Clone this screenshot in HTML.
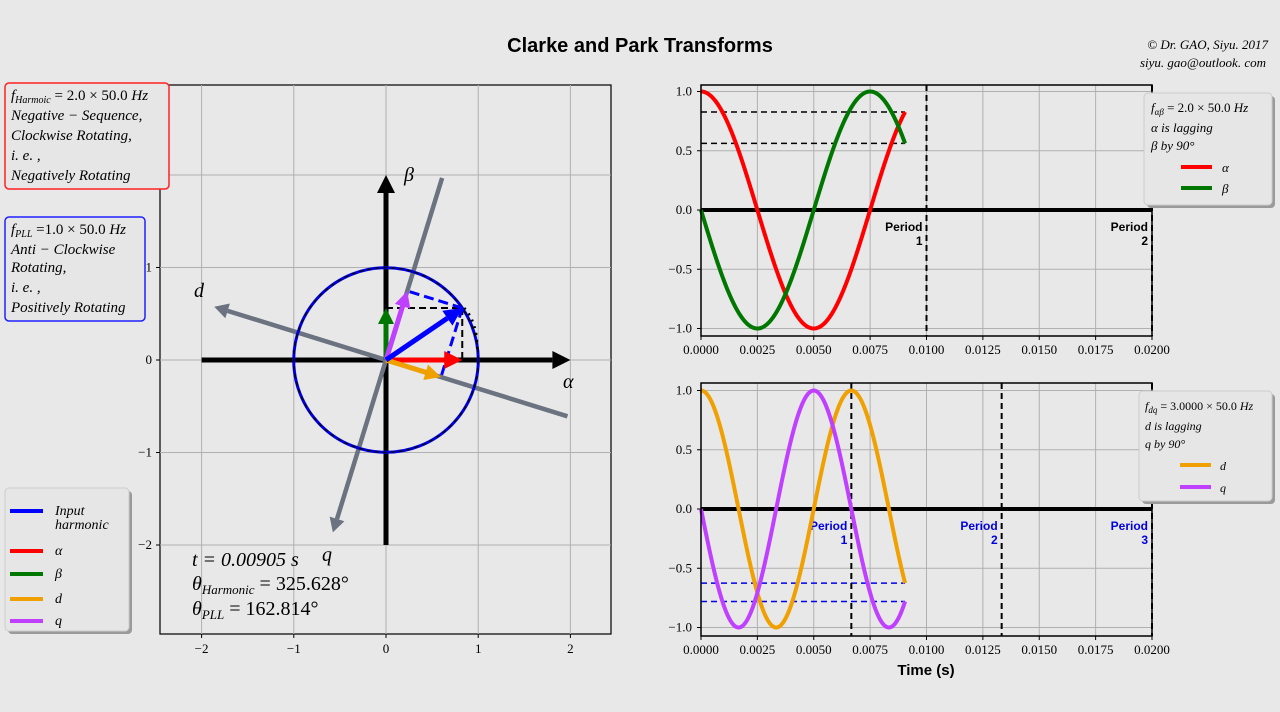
<!DOCTYPE html>
<html><head><meta charset="utf-8">
<style>
body{margin:0;background:#e8e8e8;}
svg{display:block;font-family:"Liberation Serif",serif;}
.tk{font-size:13px;fill:#000;}
.m{font-family:"Liberation Serif",serif;font-style:italic;}
</style></head>
<body>
<svg id="s" width="1280" height="712" viewBox="0 0 1280 712">
<rect width="1280" height="712" fill="#e8e8e8"/>
<text x="640" y="52" text-anchor="middle" font-family="Liberation Sans,sans-serif" font-weight="bold" font-size="20">Clarke and Park Transforms</text>
<text x="1268" y="49" text-anchor="end" font-size="13" class="m">© Dr. GAO,  Siyu. 2017</text>
<text x="1266" y="67" text-anchor="end" font-size="13" class="m">siyu. gao@outlook. com</text>
<g id="L"></g><g id="T"></g><g id="B"></g><g id="G"></g>
</svg>
<script>
// ---- data ----
const tNow=[0.00905];
const harmFreq=[100];      // 2.0 x 50 Hz
const dqFreq=[150];        // 3.0 x 50 Hz
const pllAngleDeg=[162.814];
const xTicksTime=[0,0.0025,0.005,0.0075,0.01,0.0125,0.015,0.0175,0.02];
const xTickLabelsTime=["0.0000","0.0025","0.0050","0.0075","0.0100","0.0125","0.0150","0.0175","0.0200"];
const yTicksWave=[-1,-0.5,0,0.5,1];
const yTickLabelsWave=["−1.0","−0.5","0.0","0.5","1.0"];
const xTicksPhasor=[-2,-1,0,1,2];
const yTicksPhasor=[-2,-1,0,1,2];
const periodsTop=[0.01,0.02];
const periodsBottom=[0.0066667,0.0133333,0.02];

const NS="http://www.w3.org/2000/svg";
function el(tag,attrs,parent,txt){const e=document.createElementNS(NS,tag);for(const k in attrs)e.setAttribute(k,attrs[k]);if(txt!==undefined)e.textContent=txt;parent.appendChild(e);return e;}
const S=document.getElementById('s');
const L=document.getElementById('L'),T=document.getElementById('T'),B=document.getElementById('B'),G=document.getElementById('G');

// ---- phasor axes ----
const PX=v=>386+v*92.2, PY=v=>360-v*92.5;
let r=el('rect',{x:160,y:85,width:451,height:549,fill:'#e8e8e8',stroke:'#000','stroke-width':1.2},L);


xTicksPhasor.forEach(v=>{
 let g=el('line',{x1:PX(v),x2:PX(v),y1:85,y2:634,stroke:'#b0b0b0','stroke-width':1},L);
 
 el('line',{x1:PX(v),x2:PX(v),y1:634,y2:638,stroke:'#000'},L);
 let t=el('text',{x:PX(v),y:653,'text-anchor':'middle',class:'tk'},L,v<0?'−'+(-v):String(v));
 
});
yTicksPhasor.forEach(v=>{
 let g=el('line',{x1:160,x2:611,y1:PY(v),y2:PY(v),stroke:'#b0b0b0','stroke-width':1},L);
 
 el('line',{x1:156,x2:160,y1:PY(v),y2:PY(v),stroke:'#000'},L);
 let t=el('text',{x:152,y:PY(v)+4,'text-anchor':'end',class:'tk'},L,v<0?'−'+(-v):String(v));
 
});
function arrow(x1,y1,x2,y2,color,w,name,head,hwf){
 const a=Math.atan2(y2-y1,x2-x1);const hl=head||14, hw=hl*(hwf||0.5);
 const bx=x2-hl*Math.cos(a),by=y2-hl*Math.sin(a);
 let g=el('g',{},L);
 el('line',{x1,y1,x2:bx,y2:by,stroke:color,'stroke-width':w},g);
 el('polygon',{points:`${x2},${y2} ${bx-hw*Math.sin(a)},${by+hw*Math.cos(a)} ${bx+hw*Math.sin(a)},${by-hw*Math.cos(a)}`,fill:color},g);
}
// alpha/beta axes
arrow(PX(-2),PY(0),PX(2),PY(0),'#000',5,'alpha-axis-arrow',18);
arrow(PX(0),PY(-2),PX(0),PY(2),'#000',5,'beta-axis-arrow',18);
// d/q axes
const th=pllAngleDeg[0]*Math.PI/180;
const dd=[Math.cos(th),Math.sin(th)], qd=[Math.cos(th+Math.PI/2),Math.sin(th+Math.PI/2)];
arrow(PX(-dd[0]*2.06),PY(-dd[1]*2.06),PX(dd[0]*1.95),PY(dd[1]*1.95),'#6b7280',4.5,'d-axis-arrow',14,0.55);
arrow(PX(-qd[0]*2.06),PY(-qd[1]*2.06),PX(qd[0]*1.95),PY(qd[1]*1.95),'#6b7280',4.5,'q-axis-arrow',14,0.55);
// circle
let c=el('circle',{cx:PX(0),cy:PY(0),r:92.3,fill:'none',stroke:'#0000dd','stroke-width':3},L);

el('circle',{cx:PX(0),cy:PY(0),r:92.3,fill:'none',stroke:'#000','stroke-width':1.2,'stroke-dasharray':'4,4'},L);
// vectors
const ph=-2*Math.PI*harmFreq[0]*tNow[0];
const al=Math.cos(ph), be=Math.sin(ph);
const dv=al*dd[0]+be*dd[1], qv=al*qd[0]+be*qd[1];
const dtip=[dv*dd[0],dv*dd[1]], qtip=[qv*qd[0],qv*qd[1]];
function dl(x1,y1,x2,y2,col,w,da,name){let l=el('line',{x1:PX(x1),y1:PY(y1),x2:PX(x2),y2:PY(y2),stroke:col,'stroke-width':w,'stroke-dasharray':da},L);}
dl(0,be,al,be,'#000',2,'7,4','beta-projection-dash');
dl(al,be,al,0,'#000',2,'7,4','alpha-projection-dash');
dl(al,be,dtip[0],dtip[1],'#0000ff',3,'10,5','d-projection-dash');
dl(al,be,qtip[0],qtip[1],'#0000ff',3,'10,5','q-projection-dash');
let dot=el('path',{d:`M${PX(al)+2},${PY(be)} Q${PX(1.0)},${PY(0.4)} ${PX(0.99)},${PY(0.08)}`,fill:'none',stroke:'#000','stroke-width':2.5,'stroke-dasharray':'2,5'},L);

arrow(PX(0),PY(0),PX(al),PY(0),'#ff0000',5,'alpha-vector',18);
arrow(PX(0),PY(0),PX(0),PY(be),'#007700',5,'beta-vector',16);
arrow(PX(0),PY(0),PX(dtip[0]),PY(dtip[1]),'#f0a000',5,'d-vector',16);
arrow(PX(0),PY(0),PX(qtip[0]),PY(qtip[1]),'#c040ff',5,'q-vector',16);
arrow(PX(0),PY(0),PX(al),PY(be),'#0000ff',5,'input-vector',18);
[['α',563,388,'alpha-label'],['β',404,181,'beta-label'],['d',194,297,'d-label'],['q',322,561,'q-label']].forEach(a=>{
 let t=el('text',{x:a[1],y:a[2],'font-size':20,class:'m'},L,a[0]);});
let it=el('g',{'font-size':20,class:'m'},L);
it.innerHTML='<text x="192" y="566">t = 0.00905  s</text><text x="192" y="590">θ<tspan font-size="13" dy="4">Harmonic</tspan><tspan dy="-4" font-style="normal"> = 325.628°</tspan></text><text x="192" y="615">θ<tspan font-size="13" dy="4">PLL</tspan><tspan dy="-4" font-style="normal"> = 162.814°</tspan></text>';

// ---- wave axes ----
function waveAxes(par,top,bot,y0,yr,name){
 const X=t=>701+t/0.02*451, Y=v=>y0-v*yr;
 let f=el('rect',{x:701,y:top,width:451,height:bot-top,fill:'#e8e8e8'},par);
 
 xTicksTime.forEach((v,i)=>{
  el('line',{x1:X(v),x2:X(v),y1:top,y2:bot,stroke:'#b0b0b0'},par);
  el('line',{x1:X(v),x2:X(v),y1:bot,y2:bot+4,stroke:'#000'},par);
  let t=el('text',{x:X(v),y:bot+18,'text-anchor':'middle',class:'tk'},par,xTickLabelsTime[i]);
  
 });
 yTicksWave.forEach((v,i)=>{
  el('line',{x1:701,x2:1152,y1:Y(v),y2:Y(v),stroke:'#b0b0b0'},par);
  el('line',{x1:697,x2:701,y1:Y(v),y2:Y(v),stroke:'#000'},par);
  let t=el('text',{x:692,y:Y(v)+4,'text-anchor':'end',class:'tk'},par,yTickLabelsWave[i]);
  
 });
 el('line',{x1:701,x2:1152,y1:Y(0),y2:Y(0),stroke:'#000','stroke-width':4},par);
 return {X,Y};
}
function curve(par,X,Y,fn,col,name){
 let d='';const n=200;
 for(let i=0;i<=n;i++){const t=tNow[0]*i/n;d+=(i?'L':'M')+X(t).toFixed(2)+','+Y(fn(t)).toFixed(2);}
 let p=el('path',{d,fill:'none',stroke:col,'stroke-width':4},par);
 
}
function periods(par,X,top,bot,Y,arr,col,name){
 arr.forEach((p,i)=>{
  let l=el('line',{x1:X(p),x2:X(p),y1:top,y2:bot,stroke:'#000','stroke-width':2,'stroke-dasharray':'6,4'},par);
  
  let t=el('text',{x:X(p)-4,y:Y(0)+21,'text-anchor':'end','font-family':'Liberation Sans,sans-serif','font-weight':'bold','font-size':12,fill:col},par);
  
  el('tspan',{x:X(p)-4},t,'Period');el('tspan',{x:X(p)-4,dy:14},t,String(i+1));
 });
}
const w=2*Math.PI*harmFreq[0], w2=2*Math.PI*dqFreq[0];
const A=waveAxes(T,85,336,210,118.5,'alpha-beta-axes');
const aE=Math.cos(w*tNow[0]), bE=-Math.sin(w*tNow[0]);
[aE,bE].forEach(v=>{let l=el('line',{x1:701,x2:A.X(tNow[0]),y1:A.Y(v),y2:A.Y(v),stroke:'#000','stroke-width':1.5,'stroke-dasharray':'6,4'},T);});
periods(T,A.X,85,336,A.Y,periodsTop,'#000','alpha-beta-period');
curve(T,A.X,A.Y,t=>Math.cos(w*t),'#ff0000','alpha-curve');
curve(T,A.X,A.Y,t=>-Math.sin(w*t),'#007700','beta-curve');
el('rect',{x:701,y:85,width:451,height:251,fill:'none',stroke:'#000','stroke-width':1.5},T);

const Bx=waveAxes(B,383,636,509,118.5,'d-q-axes');
const dE=Math.cos(w2*tNow[0]), qE=-Math.sin(w2*tNow[0]);
[dE,qE].forEach(v=>{let l=el('line',{x1:701,x2:Bx.X(tNow[0]),y1:Bx.Y(v),y2:Bx.Y(v),stroke:'#0000ee','stroke-width':1.5,'stroke-dasharray':'6,4'},B);});
periods(B,Bx.X,383,636,Bx.Y,periodsBottom,'#0000dd','d-q-period');
curve(B,Bx.X,Bx.Y,t=>Math.cos(w2*t),'#f0a000','d-curve');
curve(B,Bx.X,Bx.Y,t=>-Math.sin(w2*t),'#c040ff','q-curve');
el('rect',{x:701,y:383,width:451,height:253,fill:'none',stroke:'#000','stroke-width':1.5},B);
let xl=el('text',{x:926,y:675,'text-anchor':'middle','font-family':'Liberation Sans,sans-serif','font-weight':'bold','font-size':15},B,'Time (s)');


// ---- legends / boxes ----
function box(x,y,wd,h,stroke,name,shadow){
 let g=el('g',{},G);
 if(shadow)el('rect',{x:x+3,y:y+3,width:wd,height:h,rx:4,fill:'#9a9a9a'},g);
 el('rect',{x,y,width:wd,height:h,rx:4,fill:'#e6e6e6',stroke,'stroke-width':stroke=='#ccc'?1:1.5},g);
 return g;
}
let g1=box(5,83,164,106,'#ff2020','harmonic-info-box');
g1.innerHTML+='<g class="m" font-size="15"><text x="11" y="100">f<tspan font-size="10" dy="3">Harmoic</tspan><tspan dy="-3" font-style="normal"> =  2.0 × 50.0 </tspan>Hz</text><text x="11" y="120">Negative − Sequence,</text><text x="11" y="140">Clockwise Rotating,</text><text x="11" y="160">i. e. ,</text><text x="11" y="180">Negatively Rotating</text></g>';
let g2=box(5,217,140,104,'#2020ff','pll-info-box');
g2.innerHTML+='<g class="m" font-size="15"><text x="11" y="234">f<tspan font-size="10" dy="3">PLL</tspan><tspan dy="-3" font-style="normal"> =1.0 × 50.0 </tspan>Hz</text><text x="11" y="254">Anti − Clockwise</text><text x="11" y="272">Rotating,</text><text x="11" y="292">i. e. ,</text><text x="11" y="312">Positively Rotating</text></g>';
let g3=box(5,488,124,143,'#ccc','phasor-legend',true);
[['Input',505,'#0000ff'],['α',545,'#ff0000'],['β',568,'#007700'],['d',593,'#f0a000'],['q',615,'#c040ff']].forEach(e=>{
 let it=el('g',{},g3);
 el('line',{x1:10,x2:43,y1:e[1]+6,y2:e[1]+6,stroke:e[2],'stroke-width':4},it);
 el('text',{x:55,y:e[1]+10,'font-size':14,class:'m'},it,e[0]);
});
el('text',{x:55,y:529,'font-size':14,class:'m'},g3,'harmonic');
let g4=box(1144,93,128,112,'#ccc','alpha-beta-legend',true);
g4.innerHTML+='<g class="m" font-size="13"><text x="1151" y="112">f<tspan font-size="9" dy="3">αβ</tspan><tspan dy="-3" font-style="normal"> = 2.0 × 50.0 </tspan>Hz</text><text x="1151" y="132">α is lagging</text><text x="1151" y="150">β by 90°</text><line x1="1181" x2="1212" y1="167" y2="167" stroke="#ff0000" stroke-width="4"/><text x="1222" y="172">α</text><line x1="1181" x2="1212" y1="188" y2="188" stroke="#007700" stroke-width="4"/><text x="1222" y="193">β</text></g>';
let g5=box(1139,391,133,110,'#ccc','d-q-legend',true);
g5.innerHTML+='<g class="m" font-size="12"><text x="1145" y="410">f<tspan font-size="9" dy="3">dq</tspan><tspan dy="-3" font-style="normal"> = 3.0000 × 50.0 </tspan>Hz</text><text x="1145" y="430">d is lagging</text><text x="1145" y="448">q by 90°</text><line x1="1180" x2="1211" y1="465" y2="465" stroke="#f0a000" stroke-width="4"/><text x="1220" y="470">d</text><line x1="1180" x2="1211" y1="487" y2="487" stroke="#c040ff" stroke-width="4"/><text x="1220" y="492">q</text></g>';
</script>
</body></html>
